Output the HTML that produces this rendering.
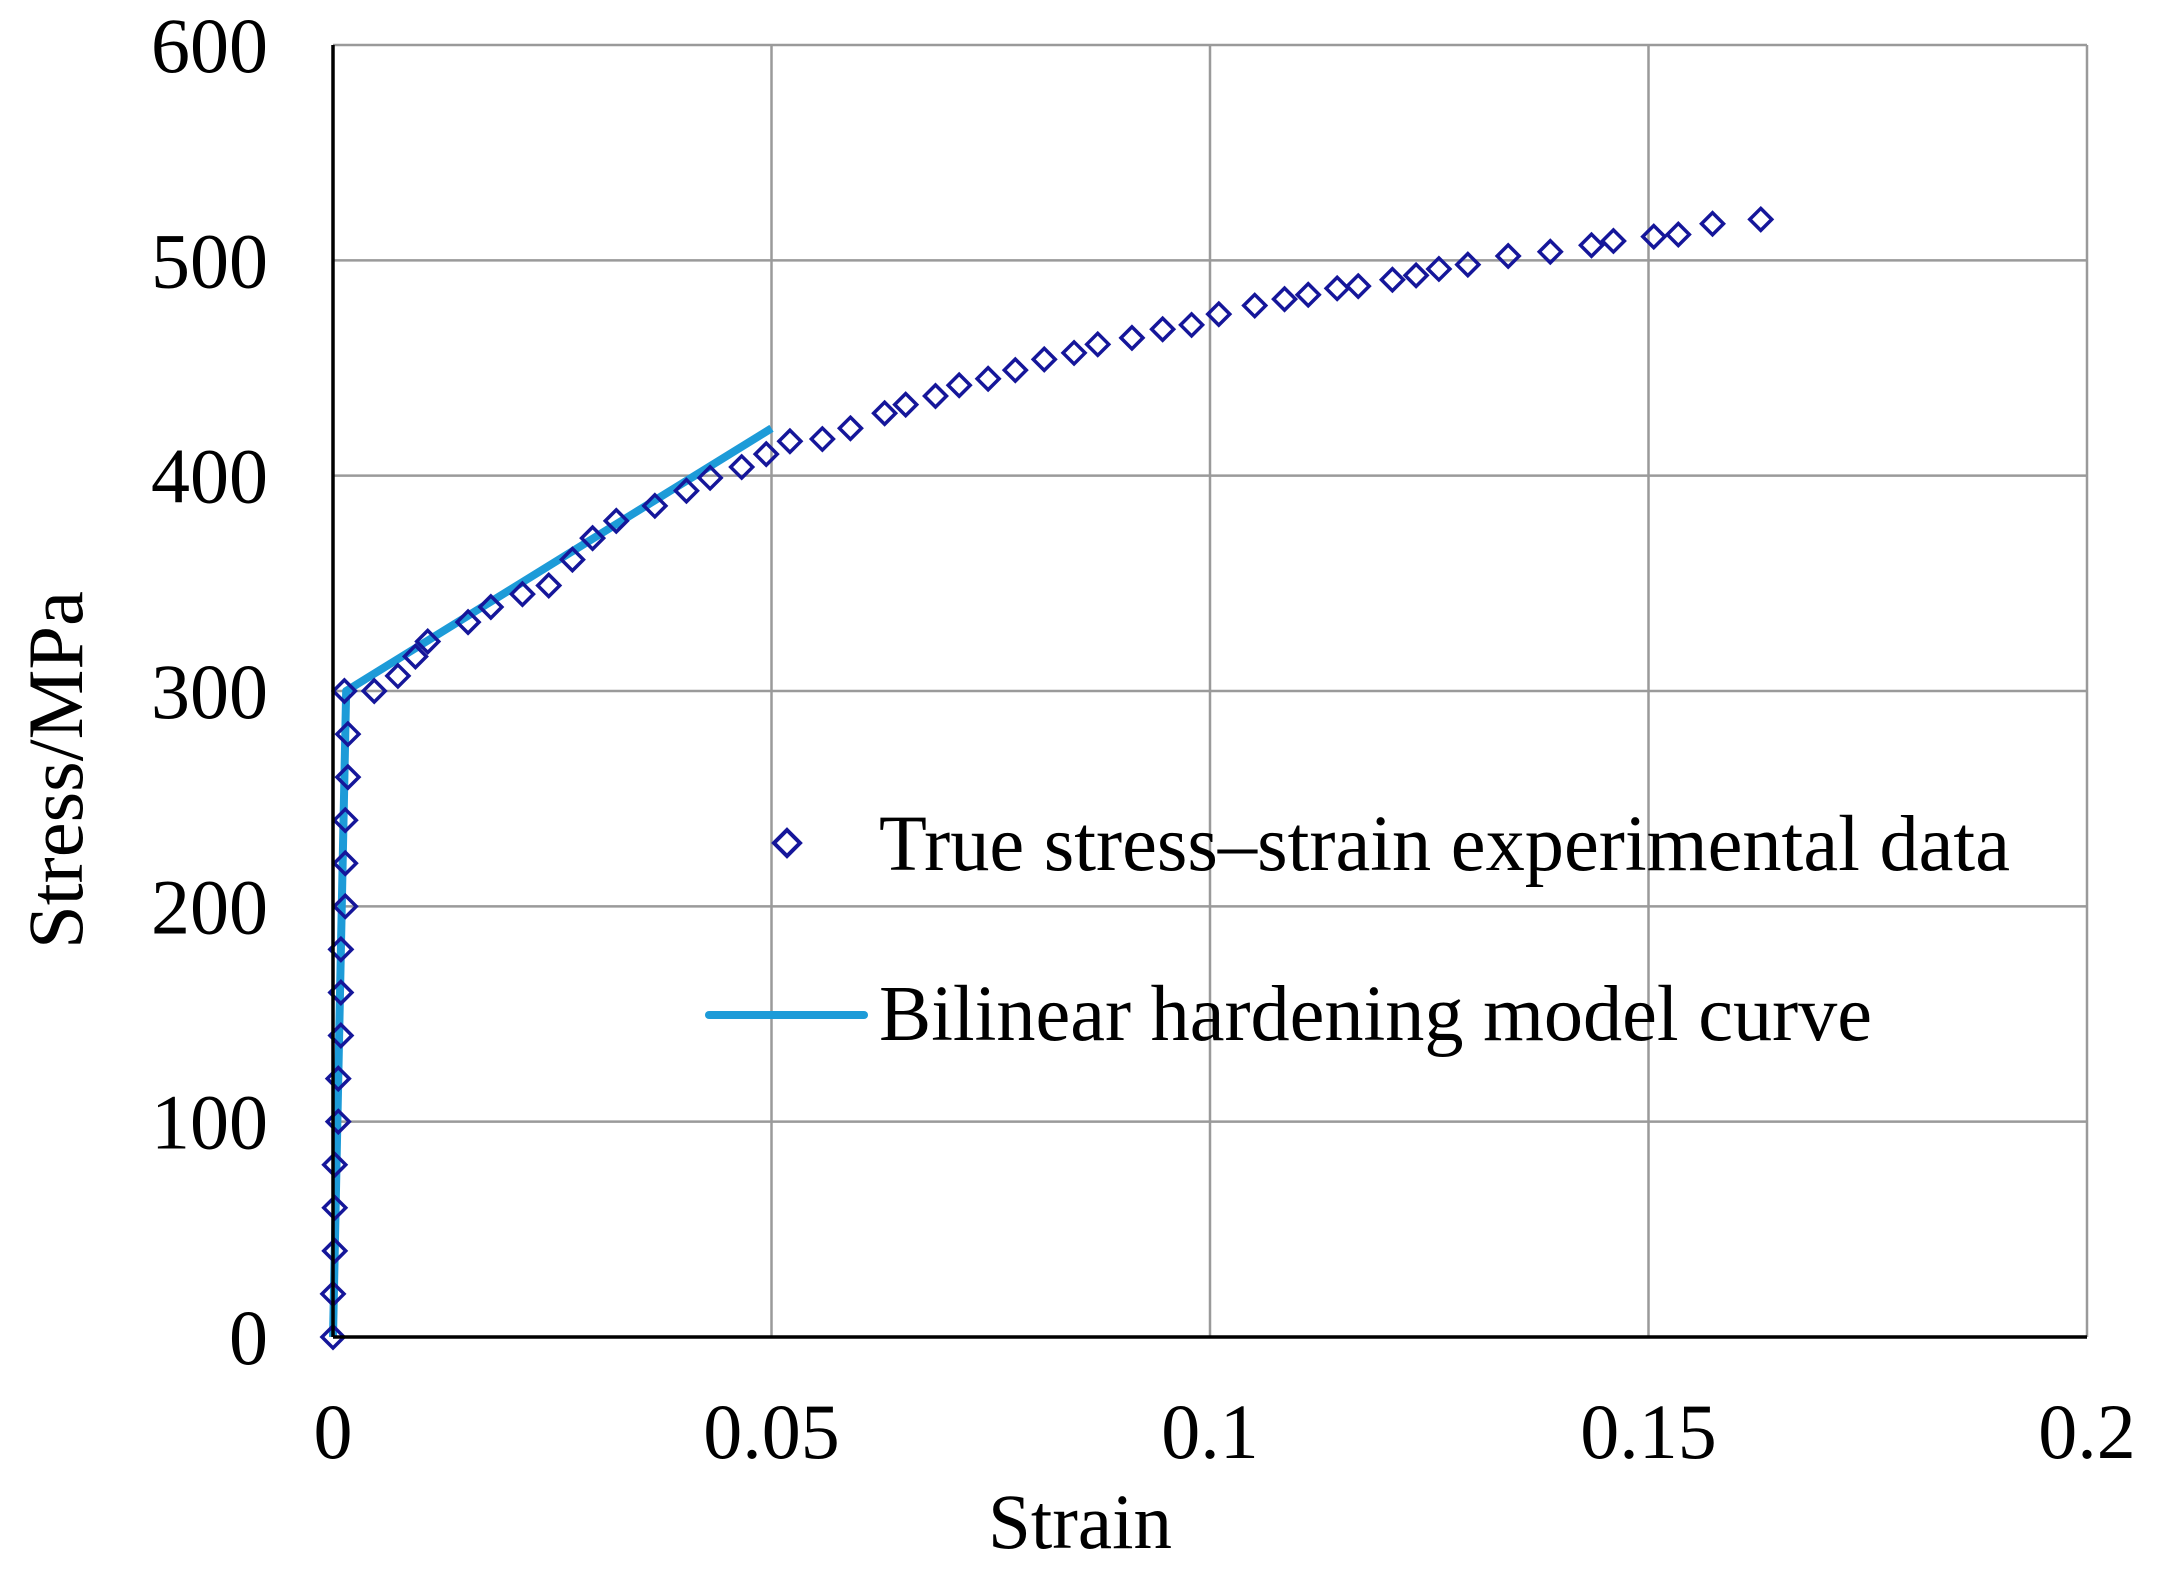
<!DOCTYPE html>
<html><head><meta charset="utf-8"><style>
html,body{margin:0;padding:0;background:#fff;}
svg{display:block;font-family:"Liberation Serif",serif;}
</style></head><body>
<svg id="chart" width="2157" height="1579" viewBox="0 0 2157 1579" xmlns="http://www.w3.org/2000/svg">
<g id="grid"></g>
<g id="series"></g>
<g id="axes"></g>
<text x="1080" y="1548" font-size="78" text-anchor="middle" textLength="184" lengthAdjust="spacingAndGlyphs">Strain</text>
<text transform="translate(82,770) rotate(-90)" font-size="78" text-anchor="middle" textLength="358" lengthAdjust="spacingAndGlyphs">Stress/MPa</text>
<g>
<path d="M787,830 L800,843 L787,856 L774,843 Z" fill="none" stroke="#15169a" stroke-width="4"/>
<text x="879" y="870" font-size="79" textLength="1131" lengthAdjust="spacingAndGlyphs">True stress–strain experimental data</text>
<line x1="709" y1="1015" x2="864" y2="1015" stroke="#1d9bd8" stroke-width="8" stroke-linecap="round"/>
<text x="879" y="1040" font-size="79" textLength="993" lengthAdjust="spacingAndGlyphs">Bilinear hardening model curve</text>
</g>
</svg>
<script>
const xTicks=[0,0.05,0.1,0.15,0.2];
const xTickLabels=["0","0.05","0.1","0.15","0.2"];
const yTicks=[0,100,200,300,400,500,600];
const yTickLabels=["0","100","200","300","400","500","600"];
const expStrain=[0,0,0.0002,0.0002,0.0002,0.0006,0.0006,0.0009,0.0009,0.0009,0.0014,0.0014,0.0014,0.0017,0.0017,0.0013,
0.0047,0.0074,0.0094,0.0108,0.0154,0.018,0.0216,0.0246,0.0273,0.0296,0.0323,0.0367,0.0403,0.043,0.0466,0.0494,0.0521,0.0558,0.059,0.0629,0.0653,0.0687,0.0714,0.0747,0.0778,0.0811,0.0845,0.0872,0.0911,0.0946,0.0979,0.101,0.1051,0.1085,0.1112,0.1145,0.1169,0.1208,0.1235,0.1261,0.1294,0.134,0.1388,0.1435,0.146,0.1506,0.1534,0.1573,0.1628];
const expStress=[0,20,40,60,80,100,120,140,160,180,200,220,240,260,280,300,
300,307,316,323,332,339,345,349,361,371,379,386,393,399,404,410,416,417,422,429,433,437,442,445,449,454,457,461,464,468,470,475,479,482,484,487,488,491,493,496,498,502,504,507,509,511,512,517,519];
const modelStrain=[0,0.0015,0.05];
const modelStress=[0,300,422];

const X0=333,X1=2087,Y0=1337,Y1=45;
const sx=v=>X0+(v-0)/(0.2-0)*(X1-X0);
const sy=v=>Y0-(v-0)/(600-0)*(Y0-Y1);
const NS="http://www.w3.org/2000/svg";
const grid=document.getElementById('grid'),series=document.getElementById('series'),axes=document.getElementById('axes');
function mk(tag,attrs,parent){const e=document.createElementNS(NS,tag);for(const k in attrs)e.setAttribute(k,attrs[k]);parent.appendChild(e);return e;}

xTicks.forEach((t,i)=>{
  if(i>0){const g=mk('line',{x1:sx(t),y1:Y1,x2:sx(t),y2:Y0,stroke:'#9a9a9a','stroke-width':2.5},grid);
  
  }
  const tx=mk('text',{x:sx(t),y:1458,'font-size':78,'text-anchor':'middle'},axes);
  tx.textContent=xTickLabels[i];
  
  
});
yTicks.forEach((t,i)=>{
  if(i>0){const g=mk('line',{x1:X0,y1:sy(t),x2:X1,y2:sy(t),stroke:'#9a9a9a','stroke-width':2.5},grid);
  
  }
  const tx=mk('text',{x:268,y:sy(t)+27,'font-size':78,'text-anchor':'end'},axes);
  tx.textContent=yTickLabels[i];
  
  
});
const ax=mk('line',{x1:X0,y1:Y1,x2:X0,y2:Y0,stroke:'#000','stroke-width':3.5},axes);


const bx=mk('line',{x1:X0,y1:Y0,x2:X1,y2:Y0,stroke:'#000','stroke-width':3.5},axes);



const pts=modelStrain.map((v,i)=>sx(v)+','+sy(modelStress[i])).join(' ');
const pl=mk('polyline',{points:pts,fill:'none',stroke:'#1d9bd8','stroke-width':8,'stroke-linejoin':'round'},series);



expStrain.forEach((v,i)=>{
  const x=sx(v),y=sy(expStress[i]),r=11;
  const p=mk('path',{d:`M${x},${y-r} L${x+r},${y} L${x},${y+r} L${x-r},${y} Z`,fill:'none',stroke:'#15169a','stroke-width':3.5},series);
  
  
});
</script>
</body></html>
